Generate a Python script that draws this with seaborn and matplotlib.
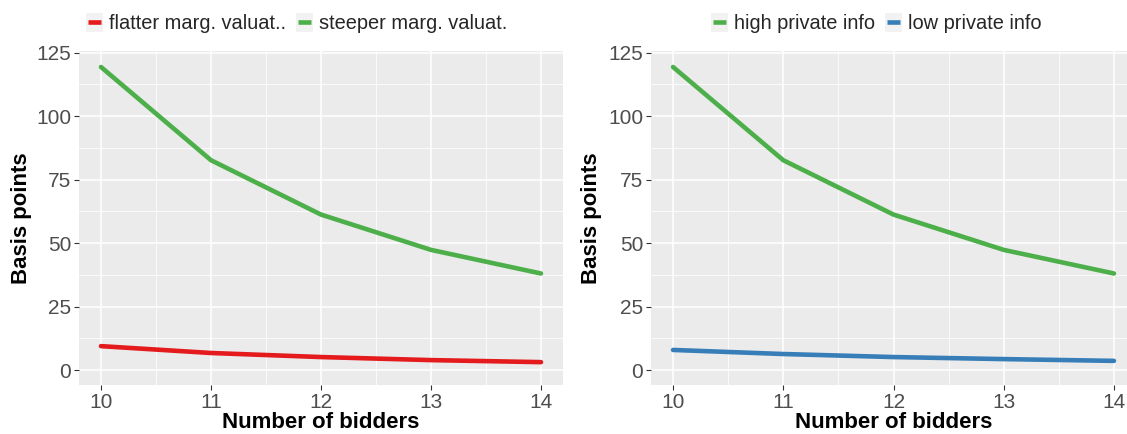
import numpy as np
import pandas as pd
import matplotlib
matplotlib.use("Agg")
import matplotlib.pyplot as plt
from matplotlib.patches import Rectangle
from matplotlib.lines import Line2D
from matplotlib.legend_handler import HandlerBase
from matplotlib.ticker import MultipleLocator
import seaborn as sns

# Number of bidders on the x axis
bidders = [10, 11, 12, 13, 14]

# Left panel: marginal valuation slope
flatter_marg = [9.4, 6.7, 5.1, 3.9, 3.1]
steeper_marg = [119.3, 82.6, 61.2, 47.3, 38.0]

# Right panel: private information
high_private = [119.3, 82.6, 61.2, 47.3, 38.0]
low_private = [7.9, 6.3, 5.1, 4.3, 3.6]

left_labels = ["flatter marg. valuat..", "steeper marg. valuat."]
right_labels = ["high private info", "low private info"]

RED, GREEN, BLUE = "#E41A1C", "#4DAF4A", "#377EB8"

sns.set_theme(style="darkgrid", rc={
    "axes.facecolor": "#EBEBEB",
    "grid.color": "white",
    "axes.edgecolor": "none",
})
plt.rcParams["font.family"] = ["Liberation Sans", "DejaVu Sans"]

left_df = pd.DataFrame({
    "bidders": bidders * 2,
    "bp": flatter_marg + steeper_marg,
    "series": [left_labels[0]] * 5 + [left_labels[1]] * 5,
})
right_df = pd.DataFrame({
    "bidders": bidders * 2,
    "bp": high_private + low_private,
    "series": [right_labels[0]] * 5 + [right_labels[1]] * 5,
})

W, H = 1127, 434
fig = plt.figure(figsize=(W / 100, H / 100), dpi=100)
ax1 = fig.add_axes([79 / W, 1 - 385 / H, (563 - 79) / W, (385 - 51) / H])
ax2 = fig.add_axes([651 / W, 1 - 385 / H, (1136 - 651) / W, (385 - 51) / H])


class KeyHandler(HandlerBase):
    """ggplot-style legend key: light grey box with a short thick line."""

    def create_artists(self, legend, orig_handle, xdescent, ydescent,
                       width, height, fontsize, trans):
        box = Rectangle((-xdescent, -ydescent), width, height,
                        facecolor="#F2F2F2", edgecolor="none", transform=trans)
        y = -ydescent + height / 2
        line = Line2D([-xdescent + width * 0.12, -xdescent + width * 0.88], [y, y],
                      color=orig_handle.get_color(), lw=3.3,
                      solid_capstyle="butt", transform=trans)
        return [box, line]


def style_panel(ax, df, palette, labels, legend_x, ylabel_x):
    sns.lineplot(data=df, x="bidders", y="bp", hue="series", hue_order=labels,
                 palette=palette, linewidth=3.3, ax=ax, legend=False)
    ax.set_xlim(9.8, 14.2)
    ax.set_ylim(-5.9, 125.6)
    ax.xaxis.set_major_locator(MultipleLocator(1))
    ax.xaxis.set_minor_locator(MultipleLocator(0.5))
    ax.yaxis.set_major_locator(MultipleLocator(25))
    ax.yaxis.set_minor_locator(MultipleLocator(12.5))
    ax.grid(which="major", color="white", linewidth=1.1)
    ax.grid(which="minor", color="white", linewidth=0.55)
    ax.tick_params(which="major", length=3.5, width=0.8, color="#333333",
                   labelsize=15, labelcolor="#4D4D4D", pad=2, bottom=True, left=True)
    ax.tick_params(which="minor", length=0)
    ax.set_xlabel("Number of bidders", fontsize=16, fontweight="bold", color="black")
    ax.set_ylabel("Basis points", fontsize=16, fontweight="bold", color="black")
    ax.xaxis.set_label_coords(0.5, -0.082)
    ax.yaxis.set_label_coords(ylabel_x, 0.5)
    for s in ax.spines.values():
        s.set_visible(False)
    handles = [Line2D([], [], color=c) for c in palette]
    fig.legend(handles, labels, handler_map={Line2D: KeyHandler()},
               loc="center", bbox_to_anchor=(legend_x / W, 1 - 23 / H),
               ncol=2, frameon=False, fontsize=14.4, handlelength=0.85,
               handleheight=1.05, handletextpad=0.3, columnspacing=0.5,
               borderpad=0, borderaxespad=0)


style_panel(ax1, left_df, [RED, GREEN], left_labels, 297, -0.097)
style_panel(ax2, right_df, [GREEN, BLUE], right_labels, 876, -0.101)

fig.savefig("out.png", dpi=100)
